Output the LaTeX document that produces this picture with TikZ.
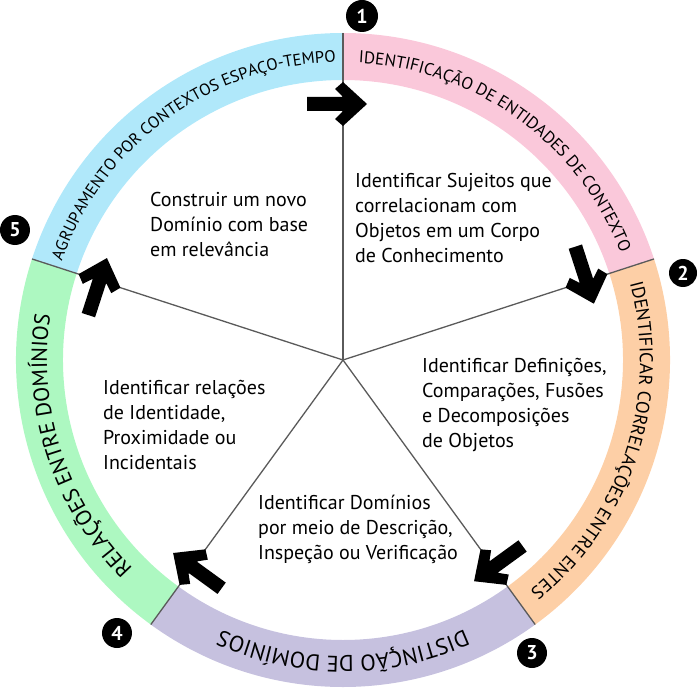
\documentclass[tikz,border=0pt]{standalone}
\usepackage{fontspec}
\setmainfont{PT Sans}
\usetikzlibrary{decorations.text}
\definecolor{segA}{HTML}{FAC8DA}
\definecolor{segB}{HTML}{FDCFA6}
\definecolor{segC}{HTML}{C6C1DF}
\definecolor{segD}{HTML}{ADF8C1}
\definecolor{segE}{HTML}{B0E8FA}
\definecolor{spokegray}{HTML}{5A5A5A}
\newcommand\rfA{\fontsize{17}{20}\selectfont}
\newcommand\rfB{\fontsize{18.5}{20}\selectfont}
\newcommand\rfC{\fontsize{22.5}{24}\selectfont}
\newcommand\rfD{\fontsize{22}{24}\selectfont}
\newcommand\rfE{\fontsize{16.5}{20}\selectfont}
\begin{document}
\begin{tikzpicture}[x=1pt,y=1pt,
  spoke/.style={draw=spokegray, line width=1.3pt},
  badge/.style={circle, fill=black, text=white, minimum size=30pt, inner sep=0pt, font=\fontsize{20}{20}\selectfont\bfseries},
  body/.style={anchor=north west, align=left, inner sep=0pt, font=\fontsize{20}{25}\selectfont},
  ringlabel/.style={decorate}]
\useasboundingbox (-343,-328) rectangle (357,360);
% ring segments
\foreach \a/\b/\c in {90/18/segA, 18/-54/segB, -54/-126/segC, -126/-198/segD, -198/-270/segE} {
  \fill[\c] (\a:327pt) arc[start angle=\a, end angle=\b, radius=327pt] -- (\b:280pt) arc[start angle=\b, end angle=\a, radius=280pt] -- cycle;
}
% spokes
\coordinate (ctr) at (0,0);
\coordinate (r1) at (90:327pt);
\coordinate (r2) at (18:327pt);
\coordinate (r3) at (-54:327pt);
\coordinate (r4) at (234:327pt);
\coordinate (r5) at (162:327pt);
\draw[spoke] (ctr) -- (r1);
\draw[spoke] (ctr) -- (r2);
\draw[spoke] (ctr) -- (r3);
\draw[spoke] (ctr) -- (r4);
\draw[spoke] (ctr) -- (r5);
% arrows
\foreach \a in {90,18,-54,234,162} {
  \begin{scope}[shift={(\a:256pt)}, rotate=\a-90]
    \fill[black] (-36,7) -- (0,7) -- (-8,15) -- (0,22) -- (24,0) -- (0,-22) -- (-8,-15) -- (0,-7) -- (-36,-7) -- cycle;
  \end{scope}
}
% ring labels
\path[ringlabel, decoration={text along path, text={|\rfA|IDENTIFICAÇÃO DE ENTIDADES DE CONTEXTO}, text align=center}]
  (104:297.5pt) arc[start angle=104, end angle=4, radius=297.5pt];
\path[ringlabel, decoration={text along path, text={|\rfB|IDENTIFICAR CORRELAÇÕES ENTRE ENTES}, text align=center}]
  (32:297pt) arc[start angle=32, end angle=-68, radius=297pt];
\path[ringlabel, decoration={text along path, text={|\rfC|DISTINÇÃO DE DOMÍNIOS}, text align=center}]
  (-40:296pt) arc[start angle=-40, end angle=-140, radius=296pt];
\path[ringlabel, decoration={text along path, text={|\rfD|RELAÇÕES ENTRE DOMÍNIOS}, text align=center}]
  (248:296pt) arc[start angle=248, end angle=148, radius=296pt];
\path[ringlabel, decoration={text along path, text={|\rfE|AGRUPAMENTO POR CONTEXTOS ESPAÇO-TEMPO}, text align=center}]
  (176:298pt) arc[start angle=176, end angle=76, radius=298pt];
% body texts
\node[body] (t1) at (12,186.5) {Identificar Sujeitos que\\correlacionam com\\Objetos em um Corpo\\de Conhecimento};
\node[body] (t2) at (79,1.5) {Identificar Definições,\\Comparações, Fusões\\e Decomposições\\de Objetos};
\node[body] (t3) at (-85,-134.5) {Identificar Domínios\\por meio de Descrição,\\Inspeção ou Verificação};
\node[body] (t4) at (-240,-20.5) {Identificar relações\\de Identidade,\\Proximidade ou\\Incidentais};
\node[body] (t5) at (-193,167.5) {Construir um novo\\Domínio com base\\em relevância};
% badges
\node[badge, minimum size=32pt] (b1) at (19,344) {1};
\node[badge, minimum size=28pt] (b2) at (340,87) {2};
\node[badge] (b3) at (189,-293) {3};
\node[badge] (b4) at (-226,-273) {4};
\node[badge] (b5) at (-328,130) {5};
\end{tikzpicture}
\end{document}
